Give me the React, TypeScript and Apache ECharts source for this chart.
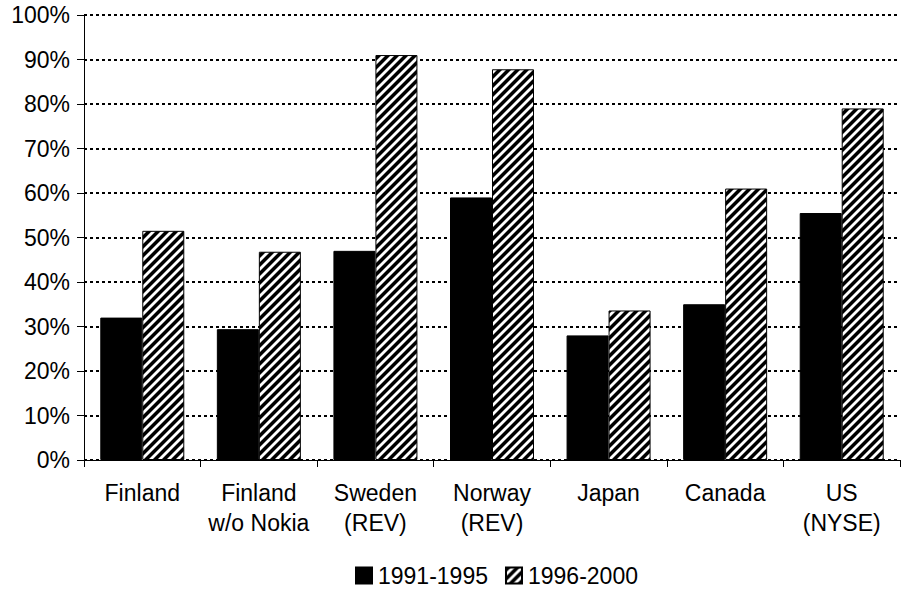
import React, { useEffect, useRef } from "react";
import * as echarts from "echarts";

const categories = ["Finland", "Finland\nw/o Nokia", "Sweden\n(REV)", "Norway\n(REV)", "Japan", "Canada", "US\n(NYSE)"];
const series1Name = "1991-1995";
const series2Name = "1996-2000";
const series1Values = [32, 29.4, 47, 59, 28, 35, 55.5];
const series2Values = [51.5, 46.8, 91, 87.8, 33.6, 61, 79];
const yMin = 0;
const yMax = 100;
const yInterval = 10;

function makeHatch(): HTMLCanvasElement {
  const c = document.createElement("canvas");
  const s = 9;
  c.width = s;
  c.height = s;
  const ctx = c.getContext("2d")!;
  const shades = [0, 0, 0, 0, 128, 255, 255, 255, 128];
  const img = ctx.createImageData(s, s);
  for (let y = 0; y < s; y++) {
    for (let x = 0; x < s; x++) {
      const v = shades[(x + y) % s];
      const i = (y * s + x) * 4;
      img.data[i] = v;
      img.data[i + 1] = v;
      img.data[i + 2] = v;
      img.data[i + 3] = 255;
    }
  }
  ctx.putImageData(img, 0, 0);
  return c;
}

export default function App() {
  const ref = useRef<HTMLDivElement>(null);
  useEffect(() => {
    if (!ref.current) return;
    const chart = echarts.init(ref.current, undefined, { renderer: "svg" });
    const hatch = makeHatch();
    const font = "Arial, 'Liberation Sans', sans-serif";
    chart.setOption({
      animation: false,
      grid: { left: 84, right: 1, top: 15, bottom: 130 },
      legend: {
        left: 355,
        top: 564,
        padding: 0,
        itemWidth: 16,
        itemHeight: 16,
        itemGap: 17,
        icon: "rect",
        textStyle: { fontFamily: font, fontSize: 23, color: "#000", lineHeight: 23, padding: [0, 0, 0, 1] },
        data: [series1Name, series2Name],
      },
      xAxis: {
        type: "category",
        data: categories,
        axisLine: { lineStyle: { color: "#000", width: 1 } },
        axisTick: { show: true, length: 7, lineStyle: { color: "#000" } },
        axisLabel: {
          interval: 0,
          margin: 18,
          fontFamily: font,
          fontSize: 23,
          lineHeight: 30,
          color: "#000",
        },
      },
      yAxis: {
        type: "value",
        min: yMin,
        max: yMax,
        interval: yInterval,
        axisLine: { show: true, lineStyle: { color: "#000", width: 1 } },
        axisTick: { show: true, length: 7, lineStyle: { color: "#000" } },
        axisLabel: {
          formatter: "{value}%",
          margin: 14,
          fontFamily: font,
          fontSize: 23,
          color: "#000",
        },
        splitLine: { show: true, lineStyle: { color: "#000", width: 2, type: [3, 3] } },
      },
      series: [
        {
          name: series1Name,
          type: "bar",
          data: series1Values,
          barWidth: 42,
          barGap: "0%",
          itemStyle: { color: "#000", borderColor: "#000", borderWidth: 1 },
        },
        {
          name: series2Name,
          type: "bar",
          data: series2Values,
          barWidth: 42,
          barGap: "0%",
          itemStyle: {
            color: { image: hatch, repeat: "repeat" },
            borderColor: "#000",
            borderWidth: 1,
          },
        },
      ],
    });
    return () => chart.dispose();
  }, []);
  return (
    <div
      ref={ref}
      style={{ position: "absolute", left: 0, top: 0, width: 901, height: 590, background: "#fff" }}
    />
  );
}
